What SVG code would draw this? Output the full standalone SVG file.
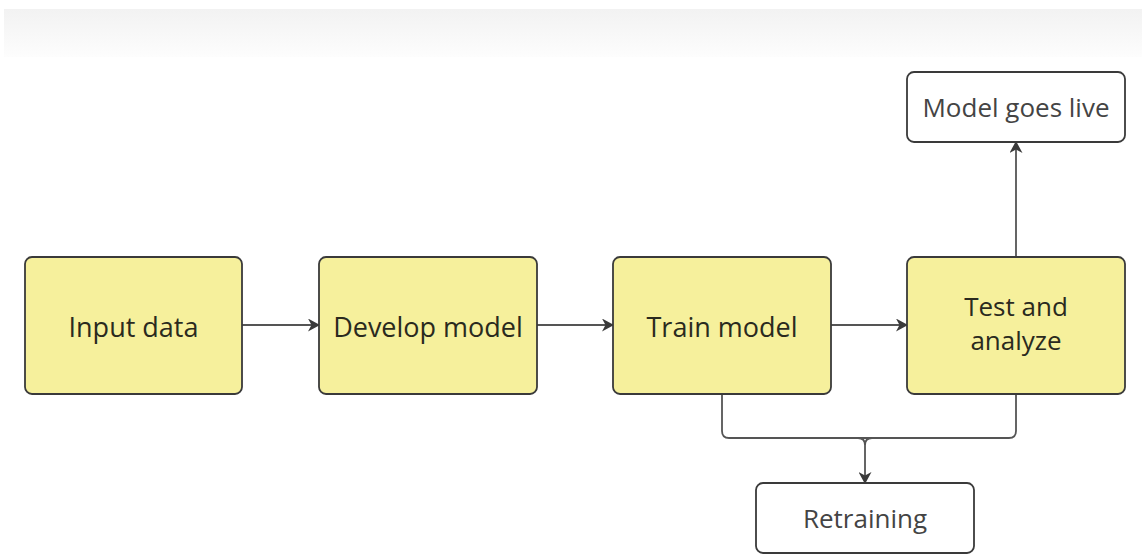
<svg xmlns="http://www.w3.org/2000/svg" width="1142" height="554" viewBox="0 0 1142 554">
  <defs>
    <linearGradient id="band" x1="0" y1="0" x2="0" y2="1">
      <stop offset="0" stop-color="#f2f2f2"/>
      <stop offset="1" stop-color="#fdfdfd"/>
    </linearGradient>
    <marker id="arrow" viewBox="0 0 12 13" refX="11" refY="6.5" markerWidth="12" markerHeight="13" markerUnits="userSpaceOnUse" orient="auto">
      <path d="M0,0 L12,6.5 L0,13 L3.5,6.5 Z" fill="#3a3a3a"/>
    </marker>
    <style>
      .step { fill: #f6f09c; stroke: #3a3a3a; stroke-width: 1.8; }
      .plain { fill: #ffffff; stroke: #3a3a3a; stroke-width: 1.8; }
      .label { font-family: "Open Sans", "Noto Sans", sans-serif; font-size: 27px; fill: #2a2a1e; text-anchor: middle; }
      .small { font-size: 26px; }
      .plain-label { fill: #444444; }
      .wire { fill: none; stroke: #555555; stroke-width: 1.8; }
    </style>
  </defs>

  <rect width="1142" height="554" fill="#ffffff"/>
  <!-- header band -->
  <rect x="4" y="9" width="1138" height="48" fill="url(#band)"/>

  <!-- connectors -->
  <g id="connectors">
    <line class="wire" x1="242" y1="325" x2="319" y2="325" marker-end="url(#arrow)"/>
    <line class="wire" x1="537" y1="325" x2="613" y2="325" marker-end="url(#arrow)"/>
    <line class="wire" x1="831" y1="325" x2="907" y2="325" marker-end="url(#arrow)"/>
    <line class="wire" x1="1016" y1="257" x2="1016" y2="142" marker-end="url(#arrow)"/>
    <path class="wire" d="M722,394 V431 Q722,438 729,438 H1009 Q1016,438 1016,431 V394"/>
    <path class="wire" d="M858,438 Q865,438 865,445 V483" marker-end="url(#arrow)"/>
    <path class="wire" d="M872,438 Q865,438 865,445"/>
  </g>

  <g id="input-data">
    <rect class="step" x="25" y="257" width="217" height="137" rx="7"/>
    <text class="label" x="133.5" y="337">Input data</text>
  </g>

  <g id="develop-model">
    <rect class="step" x="319" y="257" width="218" height="137" rx="7"/>
    <text class="label" x="428" y="337">Develop model</text>
  </g>

  <g id="train-model">
    <rect class="step" x="613" y="257" width="218" height="137" rx="7"/>
    <text class="label" x="722" y="337">Train model</text>
  </g>

  <g id="test-and-analyze">
    <rect class="step" x="907" y="257" width="218" height="137" rx="7"/>
    <text class="label small" x="1016" y="316">Test and</text>
    <text class="label small" x="1016" y="350">analyze</text>
  </g>

  <g id="model-goes-live">
    <rect class="plain" x="907" y="72" width="218" height="70" rx="7"/>
    <text class="label small plain-label" x="1016" y="117">Model goes live</text>
  </g>

  <g id="retraining">
    <rect class="plain" x="756" y="483" width="218" height="70" rx="7"/>
    <text class="label small plain-label" x="865" y="528">Retraining</text>
  </g>
</svg>
